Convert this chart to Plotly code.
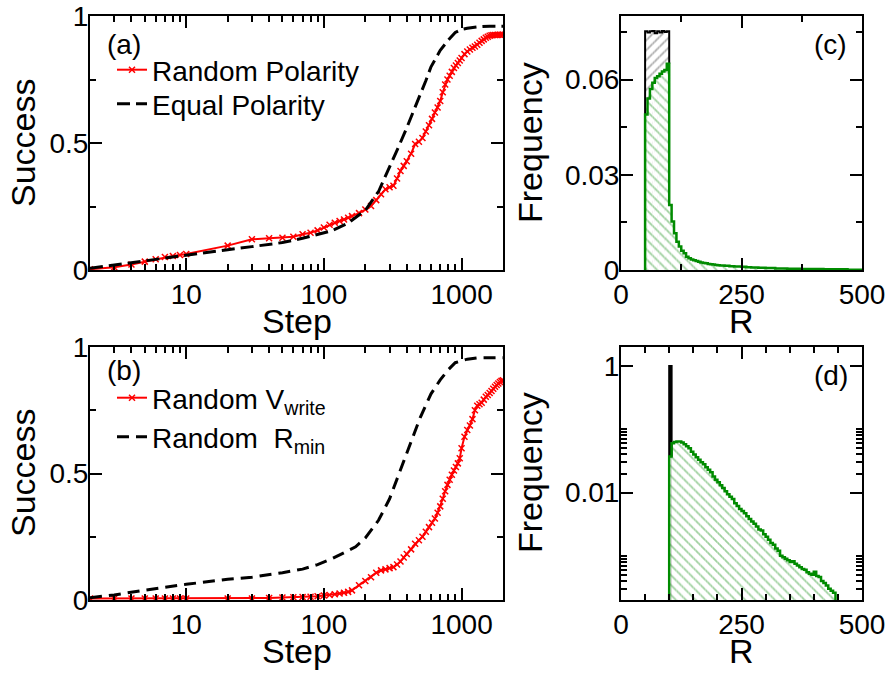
import numpy as np
import plotly.graph_objects as go

FONT = "Liberation Sans, Arial, Helvetica, sans-serif"

# ---------------- Panel (a) ----------------
steps_red = [2, 3, 4, 5, 6, 7, 8, 9, 10, 20, 30, 40, 50, 60, 70, 80, 90, 100,
             110, 120, 130, 140, 150, 160, 180, 200, 220, 240, 260, 280, 300, 320,
             340, 360, 380, 400, 430, 460, 490, 520, 550, 580, 610, 640, 670, 700,
             730, 760, 790, 820, 850, 880, 910, 940, 970, 1000, 1050, 1100, 1150,
             1200, 1250, 1300, 1350, 1400, 1450, 1500, 1550, 1600, 1650, 1700, 1750,
             1800, 1850, 1900, 1950, 2000]
random_polarity = [0.003, 0.011, 0.022, 0.033, 0.042, 0.051, 0.055, 0.059, 0.063,
                   0.096, 0.121, 0.125, 0.127, 0.131, 0.141, 0.147, 0.156, 0.167,
                   0.178, 0.186, 0.193, 0.199, 0.206, 0.212, 0.224, 0.238, 0.252,
                   0.275, 0.298, 0.318, 0.326, 0.332, 0.360, 0.390, 0.410, 0.428,
                   0.458, 0.496, 0.505, 0.520, 0.545, 0.570, 0.595, 0.620, 0.640,
                   0.665, 0.700, 0.730, 0.750, 0.765, 0.780, 0.795, 0.805, 0.815,
                   0.825, 0.835, 0.850, 0.860, 0.868, 0.875, 0.880, 0.887, 0.895,
                   0.902, 0.908, 0.914, 0.918, 0.922, 0.924, 0.925, 0.925, 0.925,
                   0.926, 0.926, 0.926, 0.926]

steps_eq = [2, 3, 5, 10, 20, 30, 50, 70, 100, 115, 150, 200, 250, 300, 350, 400,
            450, 500, 550, 600, 700, 800, 900, 1000, 1100, 1300, 1600, 2000]
equal_polarity = [0.007, 0.020, 0.037, 0.060, 0.080, 0.092, 0.108, 0.125, 0.145,
                  0.155, 0.185, 0.235, 0.310, 0.410, 0.487, 0.560, 0.625, 0.690,
                  0.745, 0.800, 0.865, 0.905, 0.935, 0.947, 0.952, 0.957, 0.960,
                  0.960]

# ---------------- Panel (b) ----------------
random_vwrite = [0.006, 0.006, 0.006, 0.006, 0.006, 0.006, 0.006, 0.006, 0.006,
                 0.006, 0.006, 0.008, 0.010, 0.011, 0.012, 0.013, 0.015, 0.018,
                 0.020, 0.023, 0.026, 0.029, 0.032, 0.038, 0.058, 0.075, 0.090,
                 0.108, 0.117, 0.121, 0.126, 0.130, 0.140, 0.152, 0.168, 0.182,
                 0.200, 0.222, 0.236, 0.250, 0.270, 0.288, 0.305, 0.322, 0.345,
                 0.370, 0.400, 0.430, 0.455, 0.475, 0.495, 0.512, 0.526, 0.540,
                 0.560, 0.600, 0.645, 0.672, 0.690, 0.715, 0.750, 0.768, 0.774,
                 0.780, 0.792, 0.803, 0.810, 0.818, 0.826, 0.835, 0.843, 0.850,
                 0.856, 0.862, 0.866, 0.868]

steps_rmin = [2, 3, 5, 10, 20, 30, 50, 70, 90, 115, 150, 170, 200, 250, 300, 350,
              400, 450, 500, 550, 600, 700, 800, 900, 1000, 1100, 1300, 1600, 2000]
random_rmin = [0.009, 0.020, 0.039, 0.062, 0.082, 0.090, 0.108, 0.122, 0.140,
               0.164, 0.195, 0.210, 0.245, 0.316, 0.400, 0.497, 0.585, 0.655,
               0.720, 0.770, 0.815, 0.870, 0.910, 0.938, 0.946, 0.952, 0.957,
               0.958, 0.958]

# ---------------- Panel (c) ----------------
bin_w = 5
c_black_start = 50
c_black = [0.0752, 0.0748, 0.0752, 0.0753, 0.0746, 0.0752, 0.0748, 0.0753, 0.0750, 0.0752]
c_green_start = 50
c_green = [0.049, 0.054, 0.057, 0.059, 0.0605, 0.061, 0.0618, 0.0625, 0.063, 0.065,
           0.0205, 0.0153, 0.0116, 0.0089, 0.0074, 0.0061, 0.0053, 0.0042, 0.0037, 0.0033,
           0.0031, 0.0028, 0.0026, 0.0024, 0.0022, 0.0021, 0.0019, 0.0018, 0.0017, 0.0016,
           0.0015, 0.0014, 0.0014, 0.0013, 0.0013, 0.0012, 0.0012, 0.0011, 0.0011, 0.0011,
           0.0010, 0.0010, 0.0009, 0.0009, 0.0008, 0.0008, 0.0008, 0.0007, 0.0007, 0.0007,
           0.0006, 0.0006, 0.0006, 0.0006, 0.0005, 0.0005, 0.0005, 0.0005, 0.0005, 0.0004,
           0.0004, 0.0004, 0.0004, 0.0004, 0.0004, 0.0003, 0.0003, 0.0003, 0.0003, 0.0003,
           0.0003, 0.0003, 0.0003, 0.0003, 0.0002, 0.0002, 0.0002, 0.0002, 0.0002, 0.0002,
           0.0002, 0.0002, 0.0002, 0.0002, 0.0001, 0.0001, 0.0001, 0.0001, 0.0001, 0.0001]

# ---------------- Panel (d) ----------------
d_black_start = 100
d_black = [1.0]
d_green_start = 100
d_green = [0.037, 0.060, 0.063, 0.064, 0.064, 0.062, 0.058, 0.054, 0.050, 0.044,
           0.040, 0.036, 0.033, 0.030, 0.028, 0.025, 0.023, 0.021, 0.018, 0.016,
           0.0145, 0.013, 0.0118, 0.0105, 0.0094, 0.0086, 0.0079, 0.0068, 0.0061, 0.0055,
           0.0051, 0.0047, 0.0042, 0.0038, 0.0035, 0.0032, 0.0029, 0.0026, 0.0025, 0.0022,
           0.0020, 0.0018, 0.0016, 0.0015, 0.0013, 0.0012, 0.0010, 0.00095, 0.0009, 0.00085,
           0.0008, 0.00082, 0.00075, 0.0007, 0.00066, 0.00062, 0.0006, 0.00055, 0.00052, 0.0005,
           0.00056, 0.00048, 0.00046, 0.0004, 0.00037, 0.00034, 0.0003, 0.00028, 0.00026]

GREEN = "#008b00"
HATCH_GREEN = "#3a9f3a"

fig = go.Figure()

red_marker = dict(symbol="x-thin", size=6, color="red", line=dict(width=1.5, color="red"))

# panel (a)
fig.add_trace(go.Scatter(x=steps_red, y=random_polarity, mode="lines+markers",
                         name="Random Polarity", legend="legend",
                         line=dict(color="red", width=2), marker=red_marker,
                         xaxis="x", yaxis="y"))
fig.add_trace(go.Scatter(x=steps_eq, y=equal_polarity, mode="lines",
                         name="Equal Polarity", legend="legend3",
                         line=dict(color="black", width=3, dash="13px,6px"),
                         xaxis="x", yaxis="y"))
# panel (b)
fig.add_trace(go.Scatter(x=steps_red, y=random_vwrite, mode="lines+markers",
                         name="Random V<sub>write</sub>", legend="legend2",
                         line=dict(color="red", width=2), marker=red_marker,
                         xaxis="x2", yaxis="y2"))
fig.add_trace(go.Scatter(x=steps_rmin, y=random_rmin, mode="lines",
                         name="Random  R<sub>min</sub>", legend="legend4",
                         line=dict(color="black", width=3, dash="12px,7px"),
                         xaxis="x2", yaxis="y2"))


def hist(start, vals, xa, ya, hatch, shape, fill="white"):
    starts = [start + i * bin_w for i in range(len(vals))]
    fig.add_trace(go.Bar(x=starts, y=vals, width=bin_w, offset=0, showlegend=False,
                         marker=dict(color=fill, line=dict(width=0),
                                     pattern=dict(shape=shape, fgcolor=hatch,
                                                  bgcolor=fill, size=7,
                                                  solidity=0.25)),
                         xaxis=xa, yaxis=ya))
    return starts


def outline(starts, vals, xa, ya, color, floor_l, floor_r, lw):
    xs = [starts[0]] + list(starts) + [starts[-1] + bin_w, starts[-1] + bin_w]
    ys = [floor_l] + list(vals) + [vals[-1], floor_r]
    fig.add_trace(go.Scatter(x=xs, y=ys, mode="lines", line_shape="hv",
                             line=dict(color=color, width=lw), showlegend=False,
                             xaxis=xa, yaxis=ya))


# panel (c)
sb = hist(c_black_start, c_black, "x3", "y3", "#555555", "/")
sg = hist(c_green_start, c_green, "x3", "y3", HATCH_GREEN, "\\")
outline(sb, c_black, "x3", "y3", "black", c_green[0], c_green[len(c_black) - 1], 2)
outline(sg, c_green, "x3", "y3", GREEN, 0, 0, 2.5)

# panel (d)
sb4 = hist(d_black_start, d_black, "x4", "y4", "black", "/", fill="black")
outline(sb4, d_black, "x4", "y4", "black", d_green[0], d_green[0], 2)
sg4 = hist(d_green_start, d_green, "x4", "y4", HATCH_GREEN, "\\")
outline(sg4, d_green, "x4", "y4", GREEN, 1e-6, 1e-6, 2.5)

# ---------------- axes ----------------
tickfont = dict(size=28, color="black", family=FONT)


def axis(**kw):
    base = dict(showline=True, linecolor="black", linewidth=2, mirror="allticks",
                ticks="inside", ticklen=12, tickwidth=1.5, tickcolor="black",
                tickfont=tickfont, showgrid=False, zeroline=False, tickmode="array",
                automargin=False)
    base.update(kw)
    return base


def minor(vals):
    return dict(ticks="inside", ticklen=6, tickwidth=1.5, tickcolor="black",
                tickvals=vals, showgrid=False)


log_minor = [3, 4, 5, 6, 7, 8, 9, 20, 30, 40, 50, 60, 70, 80, 90,
             200, 300, 400, 500, 600, 700, 800, 900]

xa_dom = [90 / 888, 503 / 888]
xc_dom = [621 / 888, 862 / 888]
ytop_dom = [1 - 270 / 675, 1 - 16 / 675]
ybot_dom = [1 - 600 / 675, 1 - 347 / 675]

step_axis = dict(type="log", range=[np.log10(2), np.log10(2000)],
                 tickvals=[10, 100, 1000], ticktext=["10", "100", "1000"],
                 minor=minor(log_minor), ticklabelstandoff=-2)
succ_axis = dict(range=[0, 1], tickvals=[0, 0.5, 1], ticktext=["0", "0.5", "1"],
                 minor=minor([0.25, 0.75]), ticklabelstandoff=-6)

leg_font = dict(size=28, family=FONT, color="black")


def legend(xc, yc):
    return dict(x=xc / 888, y=1 - yc / 675, xanchor="left", yanchor="middle",
                font=leg_font, bgcolor="rgba(0,0,0,0)", borderwidth=0,
                tracegroupgap=0)


def label(txt, x, y, size=28, angle=0):
    return dict(text=txt, x=x / 888, y=1 - y / 675, xref="paper", yref="paper",
                xanchor="center", yanchor="middle", textangle=angle,
                showarrow=False, font=dict(size=size, family=FONT, color="black"))


fig.update_layout(
    width=888, height=675, margin=dict(l=0, r=0, t=0, b=0),
    paper_bgcolor="white", plot_bgcolor="white", barmode="overlay",
    font=dict(family=FONT, color="black"),
    xaxis=axis(domain=xa_dom, anchor="y", **step_axis),
    yaxis=axis(domain=ytop_dom, anchor="x", **succ_axis),
    xaxis2=axis(domain=xa_dom, anchor="y2", **step_axis),
    yaxis2=axis(domain=ybot_dom, anchor="x2", **succ_axis),
    xaxis3=axis(domain=xc_dom, anchor="y3", range=[0, 500],
                tickvals=[0, 250, 500], ticktext=["0", "250", "500"],
                minor=minor([125, 375]), ticklabelstandoff=-2),
    yaxis3=axis(domain=ytop_dom, anchor="x3", range=[0, 0.08],
                tickvals=[0, 0.03, 0.06], ticktext=["0", "0.03", "0.06"],
                minor=minor([0.015, 0.045, 0.075]), ticklabelstandoff=-6),
    xaxis4=axis(domain=xc_dom, anchor="y4", range=[0, 500],
                tickvals=[0, 250, 500], ticktext=["0", "250", "500"],
                minor=minor([50, 100, 150, 200, 300, 350, 400, 450]),
                ticklabelstandoff=-2),
    yaxis4=axis(domain=ybot_dom, anchor="x4", type="log",
                range=[np.log10(2e-4), np.log10(2)],
                tickvals=[0.01, 1], ticktext=["0.01", "1"],
                minor=minor([0.0002, 0.0003, 0.0004, 0.0005, 0.0006, 0.0007, 0.0008,
                             0.0009, 0.001, 0.02, 0.03, 0.04, 0.05, 0.06, 0.07, 0.08,
                             0.09, 0.1]),
                ticklabelstandoff=-6),
    legend=legend(112, 70),
    legend3=legend(112, 104),
    legend2=legend(112, 398),
    legend4=legend(112, 437),
    annotations=[
        label("(a)", 124, 44),
        label("(b)", 124, 370),
        label("(c)", 830, 44),
        label("(d)", 831, 375),
        label("Step", 296.5, 320.5, 34),
        label("Step", 296.5, 650.5, 34),
        label("R", 741.5, 320.5, 34),
        label("R", 741.5, 650.5, 34),
        label("Success", 23, 143, 34, -90),
        label("Success", 23, 473, 34, -90),
        label("Frequency", 530, 143, 34, -90),
        label("Frequency", 530, 473, 34, -90),
    ],
)

fig.write_html("out.html", config={"displayModeBar": False},
               post_script="document.body.style.margin='0px';")
